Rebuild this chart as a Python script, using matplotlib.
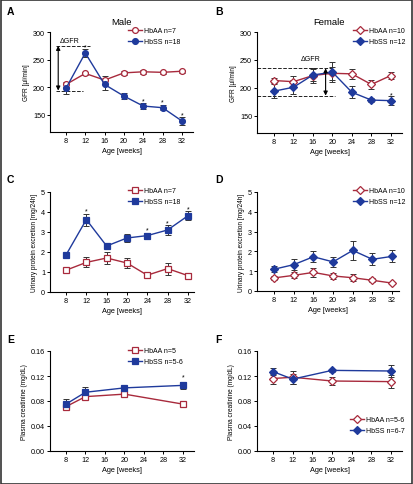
import matplotlib
matplotlib.use("Agg")
import matplotlib.pyplot as plt
from matplotlib.patches import Rectangle

plt.rcParams['font.family'] = ['Liberation Sans', 'DejaVu Sans']

RED = '#a82a3c'
BLUE = '#1f3a9c'
ERRC = '#333333'

weeks = [8, 12, 16, 20, 24, 28, 32]
weeks_cr = [8, 12, 20, 32]

# A: Male GFR
a_aa = [205, 225, 213, 226, 228, 227, 229]
a_aa_err = [5, 3, 8, 3, 4, 3, 3]
a_ss = [198, 262, 205, 184, 166, 163, 139]
a_ss_err = [10, 8, 10, 5, 6, 5, 7]
# B: Female GFR
b_aa = [213, 211, 222, 226, 225, 206, 222]
b_aa_err = [4, 11, 13, 12, 9, 8, 6]
b_ss = [194, 201, 223, 228, 192, 178, 177]
b_ss_err = [13, 13, 11, 18, 11, 4, 8]
# C: Male protein
c_aa = [1.09, 1.48, 1.70, 1.45, 0.84, 1.17, 0.82]
c_aa_err = [0.06, 0.25, 0.30, 0.27, 0.10, 0.30, 0.12]
c_ss = [1.85, 3.62, 2.30, 2.70, 2.82, 3.10, 3.81]
c_ss_err = [0.06, 0.30, 0.06, 0.22, 0.15, 0.25, 0.22]
# D: Female protein
d_aa = [0.66, 0.79, 0.94, 0.76, 0.67, 0.54, 0.40]
d_aa_err = [0.10, 0.15, 0.22, 0.16, 0.18, 0.10, 0.07]
d_ss = [1.10, 1.33, 1.73, 1.47, 2.05, 1.60, 1.75]
d_ss_err = [0.15, 0.28, 0.28, 0.25, 0.50, 0.30, 0.30]
# E: Male creatinine
e_aa = [0.071, 0.087, 0.091, 0.075]
e_aa_err = [0.003, 0.003, 0.003, 0.002]
e_ss = [0.075, 0.094, 0.101, 0.105]
e_ss_err = [0.008, 0.009, 0.003, 0.006]
# F: Female creatinine
f_aa = [0.116, 0.118, 0.112, 0.111]
f_aa_err = [0.008, 0.010, 0.006, 0.010]
f_ss = [0.127, 0.115, 0.129, 0.128]
f_ss_err = [0.006, 0.008, 0.002, 0.010]

W, H = 413, 485
fig = plt.figure(figsize=(W / 100, H / 100), dpi=100)
fig.patches.append(Rectangle((0.5 / W, 0.5 / H), 1 - 1.5 / W, 1 - 1.5 / H,
                             transform=fig.transFigure, fill=False,
                             edgecolor='#333333', linewidth=1.2))

FS = 5.0


def mkax(left, top, right, bottom):
    return fig.add_axes([left / W, 1 - bottom / H, (right - left) / W, (bottom - top) / H])


def style(ax, xlim, ylim, yticks, ylabel, yfmt=None):
    ax.set_xlim(*xlim)
    ax.set_ylim(*ylim)
    ax.set_xticks(weeks)
    ax.set_yticks(yticks)
    if yfmt:
        ax.set_yticklabels([yfmt.format(v) for v in yticks])
    for s in ['top', 'right']:
        ax.spines[s].set_visible(False)
    for s in ['left', 'bottom']:
        ax.spines[s].set_linewidth(0.8)
    ax.tick_params(labelsize=FS + 0.2, length=2, width=0.7, pad=1.5)
    ax.set_xlabel('Age [weeks]', fontsize=FS + 0.3, labelpad=2)
    ax.set_ylabel(ylabel, fontsize=FS - 0.3, labelpad=2)


def series(ax, x, y, err, color, marker, filled, ms, label):
    ax.errorbar(x, y, yerr=err, fmt='none', ecolor=ERRC, elinewidth=0.7,
                capsize=2, capthick=0.7, zorder=2)
    ax.plot(x, y, color=color, marker=marker, ms=ms, lw=1.0,
            mfc=color if filled else 'white', mec=color, mew=0.9,
            label=label, zorder=3)


def leg(ax, x, y, loc='upper left'):
    ax.legend(loc=loc, bbox_to_anchor=(x / W, 1 - y / H),
              bbox_transform=fig.transFigure, frameon=False, fontsize=FS,
              handlelength=2.0, handletextpad=0.35, borderpad=0,
              borderaxespad=0, labelspacing=0.6)


def stars(ax, xs, ys):
    for xv, yv in zip(xs, ys):
        ax.text(xv, yv, '*', ha='center', va='center', fontsize=FS)


# ---- A
ax = mkax(50, 33, 193, 133)
series(ax, weeks, a_aa, a_aa_err, RED, 'o', False, 4.2, 'HbAA n=7')
series(ax, weeks, a_ss, a_ss_err, BLUE, 'o', True, 4.2, 'HbSS n=18')
style(ax, (4.7, 34.3), (119, 300), [150, 200, 250, 300], 'GFR [µl/min]')
ax.set_title('Male', fontsize=FS + 1.8, pad=6)
ax.plot([6.0, 13.0], [275, 275], ls='--', color='#222222', lw=0.7)
ax.plot([6.0, 11.5], [194, 194], ls='--', color='#222222', lw=0.7)
ax.annotate('', xy=(6.4, 194), xytext=(6.4, 275),
            arrowprops=dict(arrowstyle='<|-|>', color='black', lw=0.8,
                            mutation_scale=6, shrinkA=0, shrinkB=0))
ax.text(8.7, 284, 'ΔGFR', fontsize=FS, ha='center', va='center')
stars(ax, [12, 24, 28, 32], [273, 176, 173, 150])
leg(ax, 128, 28)

# ---- B
ax = mkax(257, 33, 402, 134)
series(ax, weeks, b_aa, b_aa_err, RED, 'D', False, 4.2, 'HbAA n=10')
series(ax, weeks, b_ss, b_ss_err, BLUE, 'D', True, 4.2, 'HbSS n=12')
style(ax, (4.5, 34.3), (119, 300), [150, 200, 250, 300], 'GFR [µl/min]')
ax.set_title('Female', fontsize=FS + 1.8, pad=6)
ax.plot([4.6, 19.9], [235, 235], ls='--', color='#222222', lw=0.7)
ax.plot([4.6, 20.5], [186, 186], ls='--', color='#222222', lw=0.7)
ax.annotate('', xy=(18.6, 186), xytext=(18.6, 235),
            arrowprops=dict(arrowstyle='<|-|>', color='black', lw=0.8,
                            mutation_scale=6, shrinkA=0, shrinkB=0))
ax.text(15.6, 253, 'ΔGFR', fontsize=FS, ha='center', va='center')
stars(ax, [32], [188])
leg(ax, 353, 28)

# ---- C
ax = mkax(50, 193, 194, 293)
series(ax, weeks, c_aa, c_aa_err, RED, 's', False, 4.2, 'HbAA n=7')
series(ax, weeks, c_ss, c_ss_err, BLUE, 's', True, 4.2, 'HbSS n=18')
style(ax, (4.85, 33.2), (0, 5), [0, 1, 2, 3, 4, 5], 'Urinary protein excretion [mg/24h]')
stars(ax, [12, 24, 28, 32], [4.05, 3.1, 3.48, 4.16])
leg(ax, 128, 188)

# ---- D
ax = mkax(257, 193, 399, 292)
series(ax, weeks, d_aa, d_aa_err, RED, 'D', False, 4.2, 'HbAA n=10')
series(ax, weeks, d_ss, d_ss_err, BLUE, 'D', True, 4.2, 'HbSS n=12')
style(ax, (4.54, 33.4), (0, 5), [0, 1, 2, 3, 4, 5], 'Urinary protein excretion [mg/24h]')
leg(ax, 353, 188)

# ---- E
ax = mkax(50, 352, 194, 452)
series(ax, weeks_cr, e_aa, e_aa_err, RED, 's', False, 4.2, 'HbAA n=5')
series(ax, weeks_cr, e_ss, e_ss_err, BLUE, 's', True, 4.2, 'HbSS n=5-6')
style(ax, (4.72, 34.26), (0, 0.16), [0, 0.04, 0.08, 0.12, 0.16],
      'Plasma creatinine (mg/dL)', '{:.2f}')
stars(ax, [32], [0.118])
leg(ax, 128, 348)

# ---- F
ax = mkax(257, 352, 402, 452)
series(ax, weeks_cr, f_aa, f_aa_err, RED, 'D', False, 4.2, 'HbAA n=5-6')
series(ax, weeks_cr, f_ss, f_ss_err, BLUE, 'D', True, 4.2, 'HbSS n=6-7')
style(ax, (4.75, 34.2), (0, 0.16), [0, 0.04, 0.08, 0.12, 0.16],
      'Plasma creatinine (mg/dL)', '{:.2f}')
leg(ax, 350, 417)

# panel letters
for letter, x, y in [('A', 7, 12), ('B', 215, 12), ('C', 7, 180),
                     ('D', 215, 180), ('E', 7, 340), ('F', 215, 340)]:
    fig.text(x / W, 1 - y / H, letter, fontsize=7.5, fontweight='bold',
             ha='left', va='center')

fig.savefig('out.png', dpi=100)
